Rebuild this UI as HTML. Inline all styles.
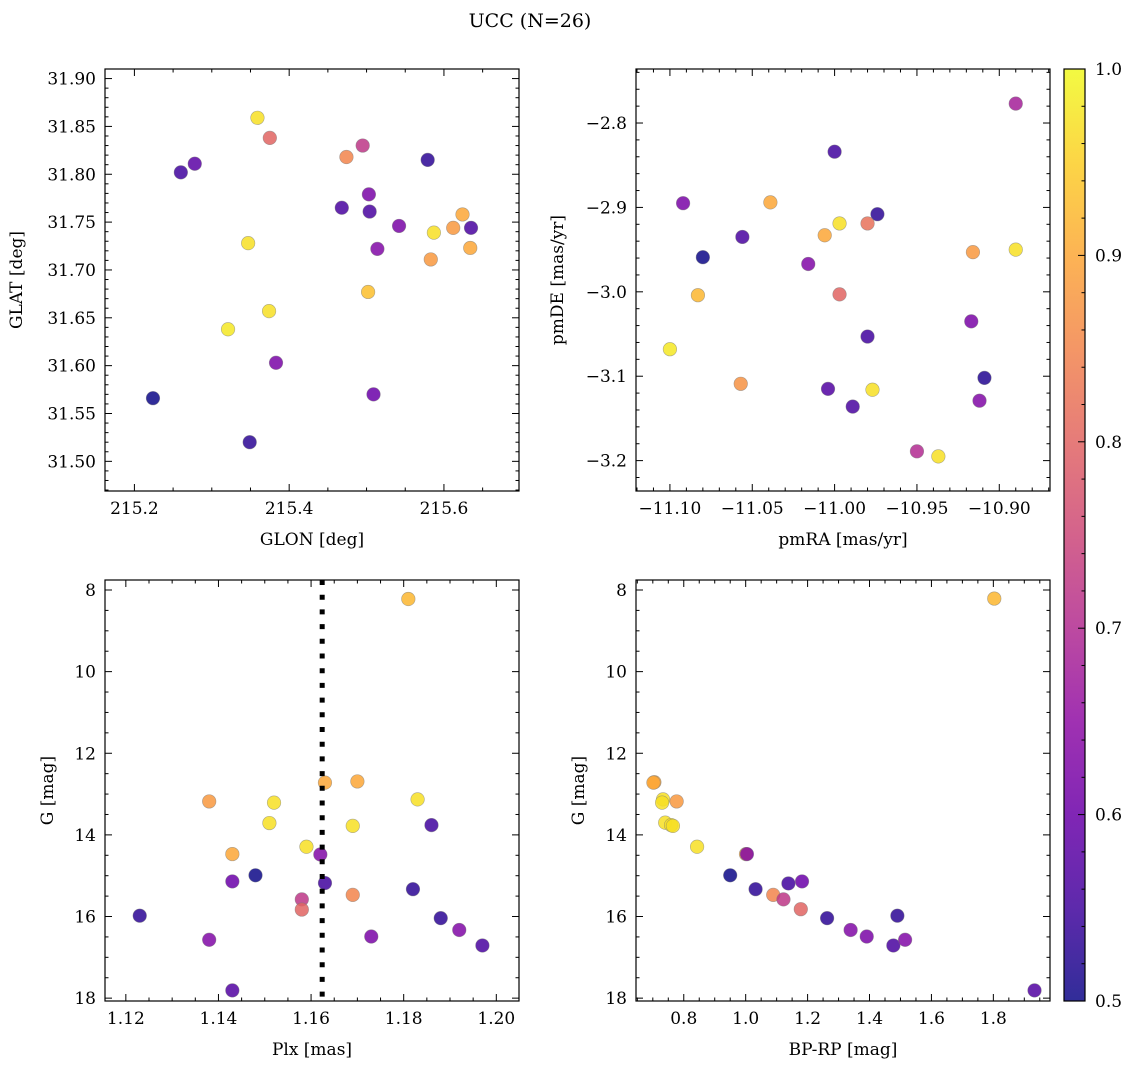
<!DOCTYPE html>
<html><head><meta charset="utf-8"><title>UCC (N=26)</title>
<style>
html,body{margin:0;padding:0;background:#fff;}
svg{display:block;font-family:"DejaVu Serif","Liberation Serif",serif;}
</style></head>
<body>
<svg id="fig" width="1136" height="1068" viewBox="0 0 1136 1068" xmlns="http://www.w3.org/2000/svg">
<defs>
<linearGradient id="plasma" x1="0" y1="1" x2="0" y2="0"></linearGradient>
</defs>
<text x="530" y="27" text-anchor="middle" font-size="19">UCC (N=26)</text>
</svg>
<script>
// ---- data ----
const glon = [215.359,215.375,215.260,215.278,215.474,215.495,215.579,215.503,215.468,215.504,215.542,215.514,215.624,215.612,215.635,215.587,215.634,215.583,215.347,215.502,215.374,215.321,215.383,215.224,215.509,215.349];
const glat = [31.859,31.838,31.802,31.811,31.818,31.830,31.815,31.779,31.765,31.761,31.746,31.722,31.758,31.744,31.744,31.739,31.723,31.711,31.728,31.677,31.657,31.638,31.603,31.566,31.570,31.520];
const probPos = [0.97,0.80,0.55,0.58,0.85,0.72,0.53,0.62,0.56,0.56,0.62,0.63,0.90,0.88,0.56,0.97,0.90,0.88,0.97,0.93,0.97,0.98,0.62,0.50,0.60,0.53];

const pmra = [-10.890,-11.000,-11.092,-11.039,-10.974,-10.997,-10.980,-11.006,-11.056,-11.080,-11.016,-10.916,-10.890,-11.083,-10.997,-10.917,-10.980,-11.100,-11.057,-10.909,-11.004,-10.977,-10.989,-10.912,-10.950,-10.937];
const pmde = [-2.777,-2.834,-2.895,-2.894,-2.908,-2.919,-2.919,-2.933,-2.935,-2.959,-2.967,-2.953,-2.950,-3.004,-3.003,-3.035,-3.053,-3.068,-3.109,-3.102,-3.115,-3.116,-3.136,-3.129,-3.189,-3.195];
const probPm = [0.68,0.55,0.62,0.90,0.53,0.97,0.82,0.90,0.56,0.50,0.63,0.88,0.97,0.92,0.80,0.62,0.55,0.98,0.87,0.52,0.57,0.97,0.56,0.63,0.70,0.97];

const plx = [1.181,1.163,1.170,1.138,1.152,1.183,1.151,1.169,1.186,1.159,1.143,1.162,1.148,1.143,1.163,1.182,1.169,1.158,1.158,1.123,1.188,1.138,1.173,1.192,1.197,1.143];
const gPlx = [8.22,12.72,12.69,13.18,13.21,13.13,13.71,13.78,13.76,14.29,14.47,14.48,14.99,15.14,15.18,15.33,15.47,15.58,15.83,15.98,16.04,16.57,16.49,16.33,16.71,17.81];
const probPlx = [0.92,0.90,0.90,0.88,0.97,0.97,0.97,0.97,0.55,0.97,0.90,0.63,0.50,0.60,0.55,0.53,0.85,0.72,0.80,0.53,0.53,0.63,0.62,0.63,0.56,0.57];
const plxRef = [1.1624];

const bprp = [1.803,0.705,0.702,0.733,0.730,0.777,0.740,0.759,0.765,0.843,1.001,1.004,0.950,1.032,1.138,1.182,1.089,1.122,1.178,1.263,1.490,1.339,1.391,1.477,1.515,1.933];
const gCmd = [8.21,12.71,12.72,13.13,13.21,13.18,13.70,13.76,13.78,14.29,14.47,14.47,14.99,15.33,15.19,15.14,15.47,15.58,15.82,16.04,15.98,16.33,16.49,16.71,16.57,17.81];
const probCmd = [0.92,0.90,0.90,0.97,0.97,0.88,0.97,0.97,0.97,0.97,0.90,0.63,0.50,0.53,0.55,0.60,0.85,0.72,0.80,0.53,0.53,0.63,0.62,0.56,0.63,0.57];

const cbTicks = [0.5,0.6,0.7,0.8,0.9,1.0];

// ---- helpers ----
const NS = "http://www.w3.org/2000/svg";
const svg = document.getElementById('fig');
function mk(tag, attrs, parent){
  const e = document.createElementNS(NS, tag);
  for (const k in attrs) e.setAttribute(k, attrs[k]);
  (parent||svg).appendChild(e);
  return e;
}
const plasmaStops = ["#0d0887","#41049d","#6a00a8","#8f0da4","#b12a90","#cc4778","#e16462","#f2844b","#fca636","#fcce25","#f0f921"];
function hex2rgb(h){return [parseInt(h.substr(1,2),16),parseInt(h.substr(3,2),16),parseInt(h.substr(5,2),16)];}
function plasma(t){
  t=Math.max(0,Math.min(1,t));
  const f=t*10, i=Math.min(9,Math.floor(f)), r=f-i;
  const a=hex2rgb(plasmaStops[i]), b=hex2rgb(plasmaStops[i+1]);
  return 'rgb('+a.map((v,k)=>Math.round(v+(b[k]-v)*r)).join(',')+')';
}
const VMIN=0.5, VMAX=1.0;
function cmap(p){ return plasma((p-VMIN)/(VMAX-VMIN)); }

function fmt(v, d){ let s=v.toFixed(d); if (v<0) s='\u2212'+s.substring(1); return s; }

const FS = 17;
function panel(cfg){
  const {name,x0,y0,w,h,xlim,ylim,xMaj,xMin,yMaj,yMin,xd,yd,xlabel,ylabel,ylabX} = cfg;
  const g = mk('g',{});
  
  
  const sx = v => x0 + (v - xlim[0])/(xlim[1]-xlim[0])*w;
  const sy = v => y0 + (v - ylim[1])/(ylim[0]-ylim[1])*h;
  const tg = mk('g',{stroke:'#000','stroke-width':1},g);
  
  
  const lo=Math.min(xlim[0],xlim[1]), hi=Math.max(xlim[0],xlim[1]);
  for (let v=Math.ceil(lo/xMin-1e-6)*xMin; v<=hi+1e-9; v+=xMin){
    const maj = Math.abs(v/xMaj - Math.round(v/xMaj))<1e-4;
    const L = maj?7:3.5, X=sx(v);
    mk('line',{x1:X,x2:X,y1:y0+h,y2:y0+h-L},tg);
    mk('line',{x1:X,x2:X,y1:y0,y2:y0+L},tg);
  }
  const ylo=Math.min(ylim[0],ylim[1]), yhi=Math.max(ylim[0],ylim[1]);
  for (let v=Math.ceil(ylo/yMin-1e-6)*yMin; v<=yhi+1e-9; v+=yMin){
    const maj = Math.abs(v/yMaj - Math.round(v/yMaj))<1e-4;
    const L = maj?7:3.5, Y=sy(v);
    mk('line',{x1:x0,x2:x0+L,y1:Y,y2:Y},tg);
    mk('line',{x1:x0+w,x2:x0+w-L,y1:Y,y2:Y},tg);
  }
  for (let v=Math.ceil(lo/xMaj-1e-6)*xMaj; v<=hi+1e-9; v+=xMaj){
    const t = mk('text',{x:sx(v),y:y0+h+23,'text-anchor':'middle','font-size':FS},g);
    
    
    t.textContent = fmt(v, xd);
  }
  for (let v=Math.ceil(ylo/yMaj-1e-6)*yMaj; v<=yhi+1e-9; v+=yMaj){
    const t = mk('text',{x:x0-9,y:sy(v)+6,'text-anchor':'end','font-size':FS},g);
    
    
    t.textContent = fmt(v, yd);
  }
  const xl = mk('text',{x:x0+w/2,y:y0+h+54,'text-anchor':'middle','font-size':FS},g);
  
  
  xl.textContent = xlabel;
  const yl = mk('text',{x:ylabX,y:y0+h/2,'text-anchor':'middle','font-size':FS,transform:'rotate(-90 '+ylabX+' '+(y0+h/2)+')'},g);
  
  
  yl.textContent = ylabel;
  return {g,sx,sy,x0,y0,w,h};
}
function frame(p,name){
  const r = mk('rect',{x:p.x0,y:p.y0,width:p.w,height:p.h,fill:'none',stroke:'#000','stroke-width':1.2},p.g);
  
  
}
function scatter(p, xs, ys, ps, name){
  const cg = mk('g',{},p.g);
  
  
  xs.forEach((xv,i)=>{
    const c = mk('circle',{cx:p.sx(xv),cy:p.sy(ys[i]),r:6.8,fill:cmap(ps[i]),'fill-opacity':0.85,stroke:'#7a7a7a','stroke-opacity':0.6,'stroke-width':0.6},cg);
    
    
  });
}

const p1 = panel({name:'sky-panel',x0:105,y0:69,w:414,h:422,xlim:[215.162,215.697],ylim:[31.469,31.910],xMaj:0.2,xMin:0.05,yMaj:0.05,yMin:0.01,xd:1,yd:2,xlabel:'GLON [deg]',ylabel:'GLAT [deg]',ylabX:22});
scatter(p1, glon, glat, probPos, 'sky'); frame(p1,'sky-panel');

const p2 = panel({name:'pm-panel',x0:636,y0:69,w:414,h:422,xlim:[-11.1206,-10.8692],ylim:[-3.236,-2.736],xMaj:0.05,xMin:0.01,yMaj:0.1,yMin:0.02,xd:2,yd:1,xlabel:'pmRA [mas/yr]',ylabel:'pmDE [mas/yr]',ylabX:563});
scatter(p2, pmra, pmde, probPm, 'pm'); frame(p2,'pm-panel');

const p3 = panel({name:'plx-panel',x0:105,y0:580,w:414,h:421,xlim:[1.1155,1.2049],ylim:[18.07,7.755],xMaj:0.02,xMin:0.005,yMaj:2,yMin:0.5,xd:2,yd:0,xlabel:'Plx [mas]',ylabel:'G [mag]',ylabX:53});
scatter(p3, plx, gPlx, probPlx, 'plx');
plxRef.forEach(v=>{
  const l = mk('line',{x1:p3.sx(v),x2:p3.sx(v),y1:p3.y0,y2:p3.y0+p3.h,stroke:'#000','stroke-width':5,'stroke-dasharray':'5 9.7'},p3.g);
  
  
});
frame(p3,'plx-panel');

const p4 = panel({name:'cmd-panel',x0:636,y0:580,w:414,h:421,xlim:[0.6457,1.983],ylim:[18.07,7.755],xMaj:0.2,xMin:0.05,yMaj:2,yMin:0.5,xd:1,yd:0,xlabel:'BP-RP [mag]',ylabel:'G [mag]',ylabX:584});
scatter(p4, bprp, gCmd, probCmd, 'cmd'); frame(p4,'cmd-panel');

const grad = document.getElementById('plasma');
for (let i=0;i<=10;i++){ mk('stop',{offset:(i*10)+'%','stop-color':plasma(i/10),'stop-opacity':0.85},grad); }
const cb = mk('g',{});


const cbx=1064, cby=69, cbw=21, cbh=932;
const cy = v => cby + (VMAX - v)/(VMAX-VMIN)*cbh;
const cr = mk('rect',{x:cbx,y:cby,width:cbw,height:cbh,fill:'url(#plasma)'},cb);


for (let v=VMIN; v<=VMAX+1e-9; v+=0.02){
  const maj = Math.abs(v*10-Math.round(v*10))<1e-4;
  mk('line',{x1:cbx+cbw,x2:cbx+cbw-(maj?7:3.5),y1:cy(v),y2:cy(v),stroke:'#000','stroke-width':1},cb);
}
cbTicks.forEach(v=>{
  const t = mk('text',{x:cbx+cbw+10,y:cy(v)+6,'font-size':FS},cb);
  
  
  t.textContent = v.toFixed(1);
});
const cf = mk('rect',{x:cbx,y:cby,width:cbw,height:cbh,fill:'none',stroke:'#000','stroke-width':1.2},cb);


</script>
</body></html>
